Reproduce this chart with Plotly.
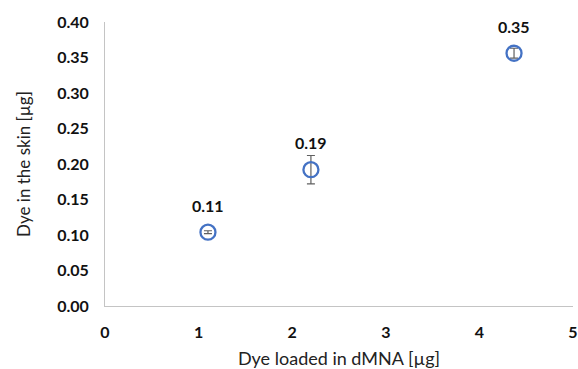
import plotly.graph_objects as go

x_loaded = [1.1, 2.2, 4.37]
y_skin = [0.104, 0.192, 0.356]
y_err = [0.002, 0.020, 0.007]
labels = ["0.11", "0.19", "0.35"]

x_ticks = [0, 1, 2, 3, 4, 5]
y_ticks = [0.00, 0.05, 0.10, 0.15, 0.20, 0.25, 0.30, 0.35, 0.40]

font_family = "Lato, 'Open Sans', sans-serif"

fig = go.Figure()
fig.add_trace(go.Scatter(
    x=x_loaded, y=y_skin,
    mode="markers",
    marker=dict(symbol="circle-open", size=15, color="#4472C4", line=dict(width=2.3, color="#4472C4")),
    error_y=dict(type="data", array=y_err, visible=True, color="#606060", thickness=1.2, width=4),
    showlegend=False,
    cliponaxis=False,
    hoverinfo="skip",
))

for xv, yv, lab in zip(x_loaded, y_skin, labels):
    fig.add_annotation(
        x=xv, y=yv, text=lab, showarrow=False,
        yanchor="middle", yshift=27,
        font=dict(family=font_family, size=16, color="#111111", weight="bold"),
    )

fig.update_layout(
    width=578, height=369,
    margin=dict(l=105, r=5, t=22, b=63),
    paper_bgcolor="white", plot_bgcolor="white",
    font=dict(family=font_family, color="#111111"),
)
fig.update_xaxes(
    range=[0, 5], tickvals=x_ticks, ticktext=[str(v) for v in x_ticks],
    showgrid=False, zeroline=False, showline=True, linecolor="#c4c4c4", linewidth=1,
    ticks="", automargin=False, ticklabelstandoff=12, ticklabeloverflow="allow",
    tickfont=dict(size=16, weight="bold", color="#111111"),
    title=dict(text="Dye loaded in dMNA [µg]", font=dict(size=18, color="#222222"), standoff=14),
)
fig.update_yaxes(
    range=[0, 0.40], tickvals=y_ticks, ticktext=[f"{v:.2f}" for v in y_ticks],
    showgrid=False, zeroline=False, showline=True, linecolor="#c4c4c4", linewidth=1,
    ticks="", automargin=False, ticklabelstandoff=12, ticklabeloverflow="allow",
    tickfont=dict(size=16, weight="bold", color="#111111"),
    title=dict(text="Dye in the skin [µg]", font=dict(size=17, color="#222222"), standoff=22),
)

fig.write_html(
    "out.html",
    config={"displayModeBar": False},
    post_script="document.body.style.margin='0px'; document.body.style.overflow='hidden';",
)
